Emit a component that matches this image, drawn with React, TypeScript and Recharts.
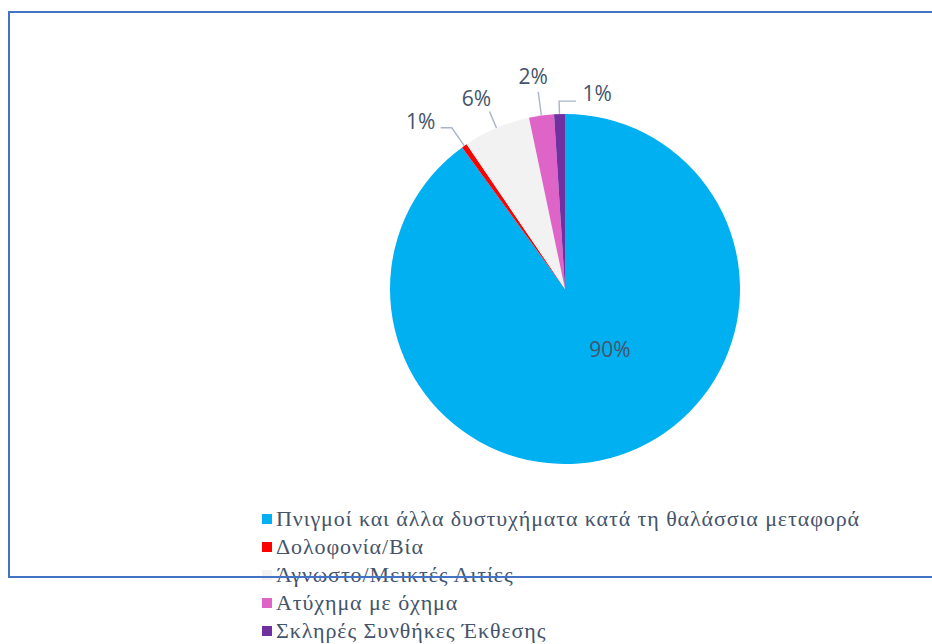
import React from 'react';
import { PieChart, Pie, Cell, Legend } from 'recharts';

const CATEGORIES = [
  'Πνιγμοί και άλλα δυστυχήματα κατά τη θαλάσσια μεταφορά',
  'Δολοφονία/Βία',
  'Άγνωστο/Μεικτές Αιτίες',
  'Ατύχημα με όχημα',
  'Σκληρές Συνθήκες Έκθεσης',
];
const VALUES = [90.0, 0.5, 6.2, 2.3, 1.0];
const COLORS = ['#00B0F0', '#FF0000', '#F2F2F2', '#DE64C8', '#7030A0'];

const data = CATEGORIES.map((name, i) => ({ name, value: VALUES[i] }));

// label layout (style): leader length beyond the rim and text nudge from the elbow
const LEADER_LEN = [0, 22, 18, 24, 13];
const TEXT_NUDGE = [
  { dx: 20.5, dy: -14.5 },
  { dx: -31, dy: -7 },
  { dx: -13, dy: -13 },
  { dx: -5, dy: -16 },
  { dx: 38, dy: -8 },
];
const LABEL_COLOR = '#44546A';
const LEADER_COLOR = '#A9B5C7';
const RAD = Math.PI / 180;

const renderLabel = (props: any) => {
  const { cx, cy, midAngle, outerRadius, percent, index } = props;
  const txt = `${Math.round(percent * 100)}%`;
  const nudge = TEXT_NUDGE[index];
  const fontStyle = { fontFamily: '"Open Sans", sans-serif', fontSize: 21, fill: LABEL_COLOR };
  if (index === 0) {
    const r = outerRadius * 0.45;
    const x = cx + r * Math.cos(-midAngle * RAD) + nudge.dx;
    const y = cy + r * Math.sin(-midAngle * RAD) + nudge.dy;
    return (
      <text x={x} y={y} textAnchor="middle" dominantBaseline="central" style={fontStyle}>
        {txt}
      </text>
    );
  }
  const ex = cx + outerRadius * Math.cos(-midAngle * RAD);
  const ey = cy + outerRadius * Math.sin(-midAngle * RAD);
  const r1 = outerRadius + LEADER_LEN[index];
  const px = cx + r1 * Math.cos(-midAngle * RAD);
  const py = cy + r1 * Math.sin(-midAngle * RAD);
  const tx = px + nudge.dx;
  const ty = py + nudge.dy;
  const halfW = 15;
  let pts = `${ex},${ey} ${px},${py}`;
  if (Math.abs(nudge.dx) > 25) {
    const hx = nudge.dx < 0 ? tx + halfW + 5 : tx - halfW - 6;
    pts += ` ${hx},${py}`;
  }
  return (
    <g>
      <polyline points={pts} fill="none" stroke={LEADER_COLOR} strokeWidth={1.4} />
      <text x={tx} y={ty} textAnchor="middle" dominantBaseline="central" style={fontStyle}>
        {txt}
      </text>
    </g>
  );
};

const renderLegend = () => (
  <div
    style={{
      fontFamily: '"Liberation Serif", "Times New Roman", serif',
      fontSize: 22,
      letterSpacing: 0.9,
      color: LABEL_COLOR,
    }}
  >
    {CATEGORIES.map((name, i) => (
      <div key={name} style={{ height: 28, lineHeight: '28px', display: 'flex', alignItems: 'center', whiteSpace: 'nowrap' }}>
        <span style={{ display: 'inline-block', width: 10, height: 10, background: COLORS[i], marginRight: 4, marginTop: 0 }} />
        <span>{name}</span>
      </div>
    ))}
  </div>
);

export default function App() {
  return (
    <div style={{ position: 'absolute', left: 0, top: 0, width: 932, height: 644, background: '#fff', overflow: 'hidden' }}>
      <PieChart width={932} height={644} margin={{ top: 0, right: 0, bottom: 0, left: 0 }}>
        <Pie
          data={data}
          dataKey="value"
          nameKey="name"
          cx={565}
          cy={289}
          outerRadius={175}
          startAngle={90}
          endAngle={-270}
          stroke="none"
          isAnimationActive={false}
          labelLine={false}
          label={renderLabel}
        >
          {data.map((d, i) => (
            <Cell key={d.name} fill={COLORS[i]} />
          ))}
        </Pie>
        <Legend
          content={renderLegend}
          wrapperStyle={{ position: 'absolute', left: 262, top: 505, width: 'auto', bottom: 'auto' }}
        />
      </PieChart>
      <div
        style={{
          position: 'absolute',
          left: 8,
          top: 11,
          width: 924,
          height: 567,
          boxSizing: 'border-box',
          borderLeft: '2px solid #4472C4',
          borderTop: '2px solid #4472C4',
          borderBottom: '2px solid #4472C4',
          pointerEvents: 'none',
        }}
      />
    </div>
  );
}
